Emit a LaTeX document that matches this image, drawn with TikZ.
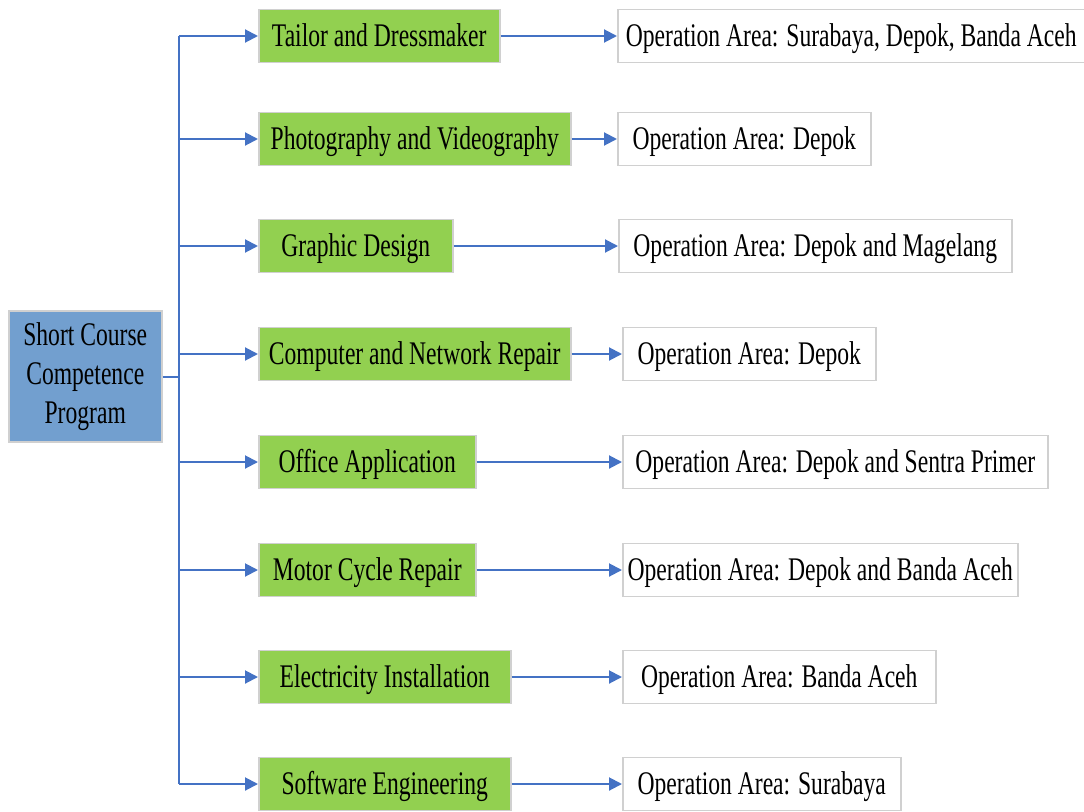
\documentclass[tikz,border=0pt]{standalone}
\usepackage{fontspec}
\setmainfont{Liberation Serif}[FakeStretch=0.715]
\usepackage{tikz}
\usetikzlibrary{arrows.meta}
\definecolor{myblue}{HTML}{4472C4}
\definecolor{mygreen}{HTML}{92D050}
\definecolor{myroot}{HTML}{729FCF}
\definecolor{mygray}{HTML}{D0D0D0}
\begin{document}
\begin{tikzpicture}[x=1pt,y=-1pt,
    every node/.style={font=\fontsize{33}{39}\selectfont, inner sep=0pt, line width=1.5pt},
    course/.style={fill=mygreen, draw=mygray, anchor=west, minimum height=53pt, text height=21pt, text depth=0pt},
    area/.style={fill=white, draw=mygray, anchor=west, minimum height=53pt, text height=21pt, text depth=0pt},
    link/.style={draw=myblue, line width=2pt, -{Triangle[length=13pt,width=13pt]}}]
      \useasboundingbox (0,0) rectangle (1084,811);
      \node[fill=myroot, draw=mygray, anchor=north west, minimum width=153pt, minimum height=131pt, align=center]
        (root) at (8,310) {Short Course\\Competence\\Program};
      \coordinate (trunk) at (179,377);
      \coordinate (top) at (179,36);
      \coordinate (bottom) at (179,784);
      \draw[myblue, line width=2pt] (root.east |- trunk) -- (trunk) (top) -- (bottom);
      
      % one row per course
      \foreach \n/\y/\w/\ax/\aw/\lab/\area in {
          1/36/241/617/467/{Tailor and Dressmaker}/{Surabaya, Depok, Banda Aceh},
          2/139/312/617/253/{Photography and Videography}/{Depok},
          3/246/194/618/393/{Graphic Design}/{Depok and Magelang},
          4/354/312/622/253/{Computer and Network Repair}/{Depok},
          5/462/217/622/425/{Office Application}/{Depok and Sentra Primer},
          6/570/217/622/395/{Motor Cycle Repair}/{Depok and Banda Aceh},
          7/677/252/622/313/{Electricity Installation}/{Banda Aceh},
          8/784/252/622/278/{Software Engineering}/{Surabaya}}{
        \coordinate (b\n) at (179,\y);
        \node[course, minimum width=\w pt] (c\n) at (258,\y) {\lab};
        \node[area, minimum width=\aw pt] (a\n) at (\ax,\y) {Operation Area: \area};
        \draw[link] (b\n) -- (c\n);
        \draw[link] (c\n) -- (a\n);
      }
    \end{tikzpicture}
\end{document}
